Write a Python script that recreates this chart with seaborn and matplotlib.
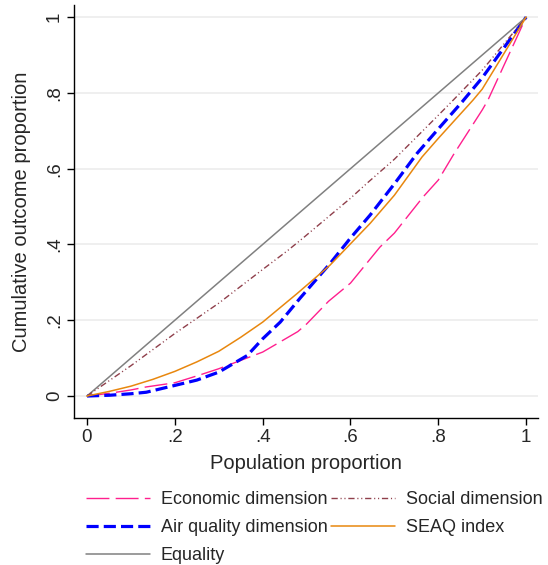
import numpy as np
import pandas as pd
import matplotlib
matplotlib.use("Agg")
import matplotlib.pyplot as plt
import seaborn as sns

# ---- data ----
econ_x = [0, 0.05, 0.10, 0.135, 0.20, 0.25, 0.30, 0.40, 0.48, 0.50, 0.55, 0.60, 0.667, 0.70, 0.765, 0.80, 0.834, 0.90, 0.913, 1.0]
econ_y = [0, 0.007, 0.016, 0.024, 0.035, 0.053, 0.072, 0.116, 0.170, 0.190, 0.250, 0.298, 0.393, 0.430, 0.525, 0.570, 0.636, 0.755, 0.781, 1.0]

air_x = [0, 0.05, 0.10, 0.135, 0.20, 0.25, 0.30, 0.365, 0.40, 0.44, 0.485, 0.553, 0.60, 0.645, 0.70, 0.752, 0.80, 0.854, 0.90, 1.0]
air_y = [0, 0.002, 0.006, 0.010, 0.028, 0.042, 0.063, 0.107, 0.151, 0.195, 0.258, 0.349, 0.417, 0.478, 0.560, 0.641, 0.705, 0.776, 0.840, 1.0]

seaq_x = [0, 0.05, 0.10, 0.15, 0.20, 0.25, 0.30, 0.35, 0.40, 0.478, 0.553, 0.645, 0.70, 0.763, 0.80, 0.879, 0.90, 1.0]
seaq_y = [0, 0.012, 0.026, 0.044, 0.065, 0.090, 0.118, 0.155, 0.195, 0.270, 0.345, 0.456, 0.530, 0.631, 0.680, 0.781, 0.810, 1.0]

social_x = [0, 0.10, 0.20, 0.30, 0.40, 0.457, 0.492, 0.60, 0.638, 0.70, 0.80, 0.834, 0.90, 1.0]
social_y = [0, 0.080, 0.165, 0.245, 0.334, 0.384, 0.417, 0.522, 0.562, 0.625, 0.741, 0.781, 0.860, 1.0]

equal_x = [0, 1]
equal_y = [0, 1]

xticks = [0, 0.2, 0.4, 0.6, 0.8, 1.0]
xticklabels = ["0", ".2", ".4", ".6", ".8", "1"]
yticks = [0, 0.2, 0.4, 0.6, 0.8, 1.0]
yticklabels = ["0", ".2", ".4", ".6", ".8", "1"]

labels = ["Economic dimension", "Air quality dimension", "Equality", "Social dimension", "SEAQ index"]

sns.set_theme(style="white")
plt.rcParams['font.family'] = ['Liberation Sans', 'DejaVu Sans']

fig = plt.figure(figsize=(5.48, 5.65), dpi=100)
ax = fig.add_axes([74/548, 1-418/565, (538-74)/548, (418-5)/565])

for yv in yticks:
    ax.axhline(yv, color="#EBEBEB", lw=1.1, zorder=0)

series = [
    ("Economic dimension", econ_x, econ_y, dict(color="#FF1F8E", lw=1.0, linestyle=(0, (16.5, 4.5)))),
    ("Air quality dimension", air_x, air_y, dict(color="#0000FF", lw=2.3, linestyle=(0, (3.8, 1.6)))),
    ("Equality", equal_x, equal_y, dict(color="#808080", lw=1.1, linestyle="-")),
    ("Social dimension", social_x, social_y, dict(color="#8F3F4B", lw=1.0, linestyle=(0, (4.5, 2.0, 0.8, 2.0, 0.8, 2.0)))),
    ("SEAQ index", seaq_x, seaq_y, dict(color="#E8870E", lw=1.1, linestyle="-")),
]

handles = {}
for name, xs, ys, kw in series:
    df = pd.DataFrame({"x": xs, "y": ys})
    sns.lineplot(data=df, x="x", y="y", ax=ax, sort=True, estimator=None, **kw)
    handles[name] = ax.lines[-1]

ax.set_xlim(-0.0296, 1.027)
ax.set_ylim(-0.058, 1.032)
ax.set_xticks(xticks)
ax.set_xticklabels(xticklabels, fontsize=13.5)
ax.set_yticks(yticks)
ax.set_yticklabels(yticklabels, fontsize=13.5, rotation=90, va="center")
ax.tick_params(axis="both", direction="out", length=5, width=1, color="black", bottom=True, left=True, pad=3)
ax.set_xlabel("Population proportion", fontsize=14.5, labelpad=6)
ax.set_ylabel("Cumulative outcome proportion", fontsize=14.5, labelpad=11)
for s in ["top", "right"]:
    ax.spines[s].set_visible(False)
for s in ["left", "bottom"]:
    ax.spines[s].set_color("black")
    ax.spines[s].set_linewidth(1.0)

fig.legend([handles[l] for l in labels], labels, ncol=2, frameon=False,
           loc="upper left", bbox_to_anchor=(86/548, 1-491/565),
           fontsize=13, handlelength=3.55, handletextpad=0.6, columnspacing=0.2,
           labelspacing=0.62, borderpad=0, borderaxespad=0)

fig.savefig("out.png", dpi=100, facecolor="white")
